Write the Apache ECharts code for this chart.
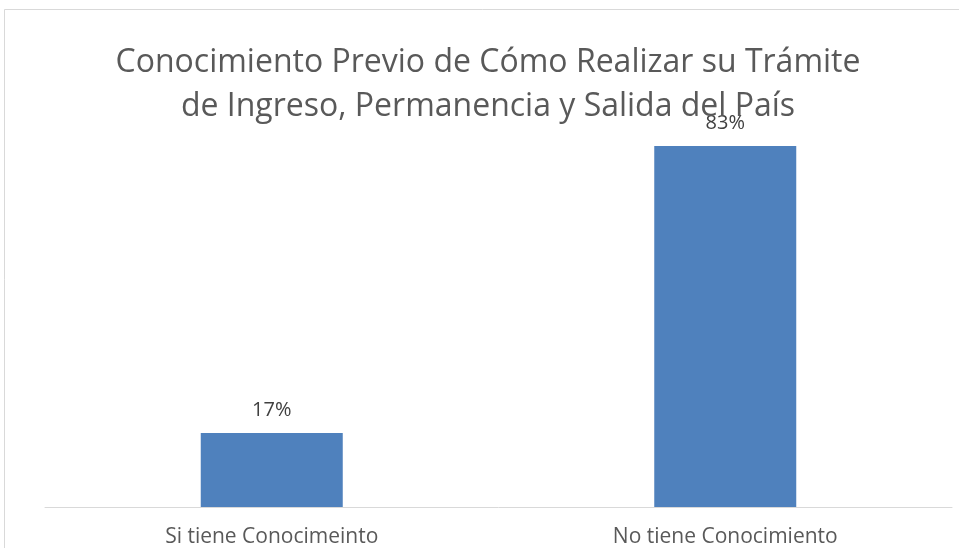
<!DOCTYPE html>
<html>
<head>
<meta charset="utf-8">
<script src="https://cdn.jsdelivr.net/npm/echarts@6/dist/echarts.min.js"></script>
<style>
html, body { margin: 0; padding: 0; background: #fff; }
#chart { width: 959px; height: 548px; }
</style>
</head>
<body>
<div id="chart"></div>
<script>
var categorias = ['Si tiene Conocimeinto', 'No tiene Conocimiento'];
var porcentajes = [17, 83];
var titulo = 'Conocimiento Previo de Cómo Realizar su Trámite\nde Ingreso, Permanencia y Salida del País';

var myChart = echarts.init(document.getElementById('chart'));
myChart.setOption({
	animation: false,
	backgroundColor: '#fff',
	title: {
		text: titulo,
		left: 483,
		top: 36,
		textAlign: 'center',
		textStyle: {
			fontFamily: 'Open Sans',
			fontSize: 32,
			fontWeight: 'normal',
			color: '#595959',
			lineHeight: 44
		}
	},
	graphic: [{
		type: 'rect',
		shape: { x: 4.5, y: 9.5, width: 960, height: 560 },
		style: { fill: 'none', stroke: '#d9d9d9', lineWidth: 1 },
		z: -1
	}],
	grid: { left: 45, right: 7, top: 72, bottom: 40 },
	xAxis: {
		type: 'category',
		data: categorias,
		axisLine: { lineStyle: { color: '#d9d9d9', width: 1 } },
		axisTick: { show: false },
		axisLabel: { fontFamily: 'Open Sans', fontSize: 21, color: '#595959', margin: 20 }
	},
	yAxis: {
		type: 'value',
		min: 0,
		max: 100,
		show: false,
		splitLine: { show: false }
	},
	series: [{
		type: 'bar',
		data: porcentajes,
		barWidth: 142,
		itemStyle: { color: '#4f81bd' },
		label: {
			show: true,
			position: 'top',
			distance: 13,
			formatter: '{c}%',
			fontFamily: 'Open Sans',
			fontSize: 20,
			color: '#404040'
		}
	}]
});
</script>
</body>
</html>
